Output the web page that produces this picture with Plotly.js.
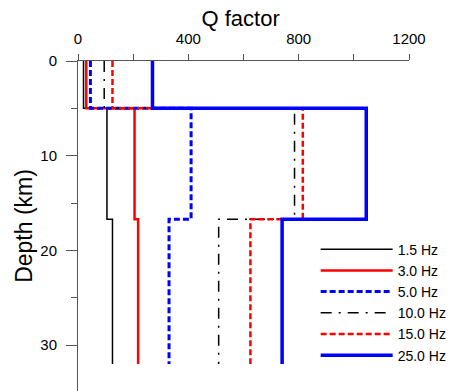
<!DOCTYPE html>
<html>
<head>
<meta charset="utf-8">
<script src="https://cdn.plot.ly/plotly-3.0.1.min.js"></script>
<style>html,body{margin:0;padding:0;background:#fff;}</style>
</head>
<body>
<div id="chart" style="width:469px;height:391px;"></div>
<script>
// Layer boundaries (km) and Q per layer for each frequency
var depths = [0, 5, 16.7, 32];
var labels = ["1.5 Hz", "3.0 Hz", "5.0 Hz", "10.0 Hz", "15.0 Hz", "25.0 Hz"];
var q1_5 = [20, 105, 125, 125];
var q3_0 = [30, 205, 218, 218];
var q5_0 = [45, 410, 330, 330];
var q10_0 = [95, 785, 510, 510];
var q15_0 = [125, 815, 625, 625];
var q25_0 = [270, 1045, 740, 740];
var xTicks = [0, 400, 800, 1200];
var yTicks = [0, 10, 20, 30];

var series = [q1_5, q3_0, q5_0, q10_0, q15_0, q25_0];
var styles = [
  {color: '#000000', width: 1.5, dash: 'solid'},
  {color: '#ff0000', width: 2.5, dash: 'solid'},
  {color: '#0000ff', width: 3, dash: '6px,3px'},
  {color: '#000000', width: 1.5, dash: '11px,7px,2px,7px'},
  {color: '#ff0000', width: 2.5, dash: '6px,3px'},
  {color: '#0000ff', width: 3.5, dash: 'solid'}
];

var traces = series.map(function (q, i) {
  return {
    x: q, y: depths, type: 'scatter', mode: 'lines', name: labels[i],
    line: {color: styles[i].color, width: styles[i].width, dash: styles[i].dash, shape: 'vh'}
  };
});

var fontFam = 'Liberation Sans, Arial, sans-serif';
var layout = {
  width: 469, height: 391,
  margin: {l: 78, r: 60, t: 61, b: 0},
  paper_bgcolor: '#fff', plot_bgcolor: '#fff',
  font: {family: fontFam, color: '#000', size: 14},
  title: {
    text: 'Q factor', font: {size: 22, color: '#000'},
    xref: 'container', yref: 'container', x: 0.513, y: 0.952,
    xanchor: 'center', yanchor: 'middle'
  },
  showlegend: true,
  legend: {
    x: 0.718, y: 0.477, xanchor: 'left', yanchor: 'top',
    bgcolor: 'rgba(0,0,0,0)', borderwidth: 0,
    font: {family: fontFam, size: 14, color: '#000'},
    itemwidth: 72
  },
  xaxis: {
    side: 'top', range: [0, 1200], tickvals: xTicks, ticktext: xTicks.map(String),
    ticks: 'outside', ticklen: 6, tickwidth: 1, tickcolor: '#555',
    showline: true, linecolor: '#555', linewidth: 1, showgrid: false, zeroline: false,
    minor: {dtick: 200, tick0: 0, ticks: 'outside', ticklen: 6, tickcolor: '#555', showgrid: false},
    tickfont: {size: 15}, ticklabelstandoff: 4
  },
  yaxis: {
    range: [34.85, 0], tickvals: yTicks, ticktext: yTicks.map(String),
    ticks: 'outside', ticklen: 11, tickwidth: 1, tickcolor: '#555',
    showline: true, linecolor: '#555', linewidth: 1, showgrid: false, zeroline: false,
    minor: {dtick: 5, tick0: 0, ticks: 'outside', ticklen: 6, tickcolor: '#555', showgrid: false},
    tickfont: {size: 15}, ticklabelstandoff: 6,
    title: {text: 'Depth (km)', font: {size: 23}, standoff: 1}
  }
};

Plotly.newPlot('chart', traces, layout, {displayModeBar: false, staticPlot: true});
</script>
</body>
</html>
